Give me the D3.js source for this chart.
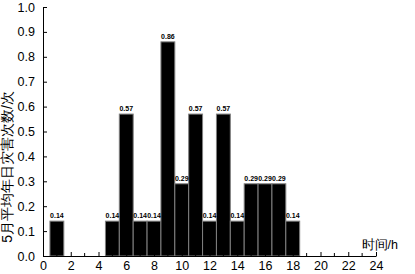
<!DOCTYPE html>
<html>
    <head>
        <meta charset="UTF-8">
        <title>5月平均年日灾害次数</title>
        <style>
            body { margin: 0; background: #fff; }
            text { font-family: "Liberation Sans", Arial, sans-serif; fill: #000; }
            .tick text { font-size: 12.5px; }
            .axis path, .axis line { stroke: #000; }
        </style>
    </head>
    <body>
        <svg width="415" height="274"></svg>
        <script src="https://cdn.jsdelivr.net/npm/d3@7"></script>
        <script>
            // hours (bar centres) and average daily disaster counts
            var hours = [0, 1, 2, 3, 4, 5, 6, 7, 8, 9, 10, 11, 12, 13, 14, 15, 16, 17, 18];
            var counts = [0, 0.14, 0, 0, 0, 0.14, 0.57, 0.14, 0.14, 0.86, 0.29, 0.57, 0.14, 0.57, 0.14, 0.29, 0.29, 0.29, 0.14];
            var xTicks = [0, 2, 4, 6, 8, 10, 12, 14, 16, 18, 20, 22, 24];
            var yTicks = [0, 0.1, 0.2, 0.3, 0.4, 0.5, 0.6, 0.7, 0.8, 0.9, 1.0];

            var svg = d3.select("svg");
            var x = d3.scaleLinear().domain([0, 24]).range([43, 376]);
            var y = d3.scaleLinear().domain([0, 1]).range([256, 7]);

            var bars = hours.map((h, i) => ({h: h, v: counts[i]})).filter(d => d.v > 0);

            svg.append("g").selectAll("rect").data(bars).enter()
                .append("rect")
                .attr("x", d => x(d.h - 0.5))
                .attr("width", d => x(d.h + 0.5) - x(d.h - 0.5))
                .attr("y", d => y(d.v))
                .attr("height", d => y(0) - y(d.v))
                .attr("fill", "#000")
                .attr("stroke", "#808080")
                .attr("stroke-width", 1);

            svg.append("g").selectAll("text").data(bars).enter()
                .append("text")
                .attr("x", d => x(d.h))
                .attr("y", d => y(d.v) - 3)
                .attr("text-anchor", "middle")
                .style("font-size", "7px")
                .style("font-weight", "bold")
                .text(d => d.v.toFixed(2));

            // x axis: major ticks every 2 h, minor every 1 h, pointing inward
            var xAxis = svg.append("g").attr("class", "axis")
                .attr("transform", "translate(0," + y(0) + ")")
                .call(d3.axisBottom(x).tickValues(xTicks).tickSizeInner(-4).tickSizeOuter(0).tickPadding(5).tickFormat(d3.format("d")));
            xAxis.selectAll(".minor").data(d3.range(1, 24, 2)).enter()
                .append("line").attr("class", "minor")
                .attr("x1", d => x(d)).attr("x2", d => x(d))
                .attr("y1", 0).attr("y2", -3)
                .attr("stroke", "#000");

            svg.append("g").attr("class", "axis")
                .attr("transform", "translate(" + x(0) + ",0)")
                .call(d3.axisLeft(y).tickValues(yTicks).tickSizeInner(-4).tickSizeOuter(0).tickPadding(8).tickFormat(d3.format(".1f")));

            svg.append("text")
                .attr("x", 398).attr("y", 249)
                .attr("text-anchor", "end")
                .style("font-size", "12.5px")
                .text("时间/h");

            svg.append("text")
                .attr("transform", "translate(12,167) rotate(-90)")
                .attr("text-anchor", "middle")
                .style("font-size", "14px")
                .text("5月平均年日灾害次数/次");
        </script>
    </body>
</html>
